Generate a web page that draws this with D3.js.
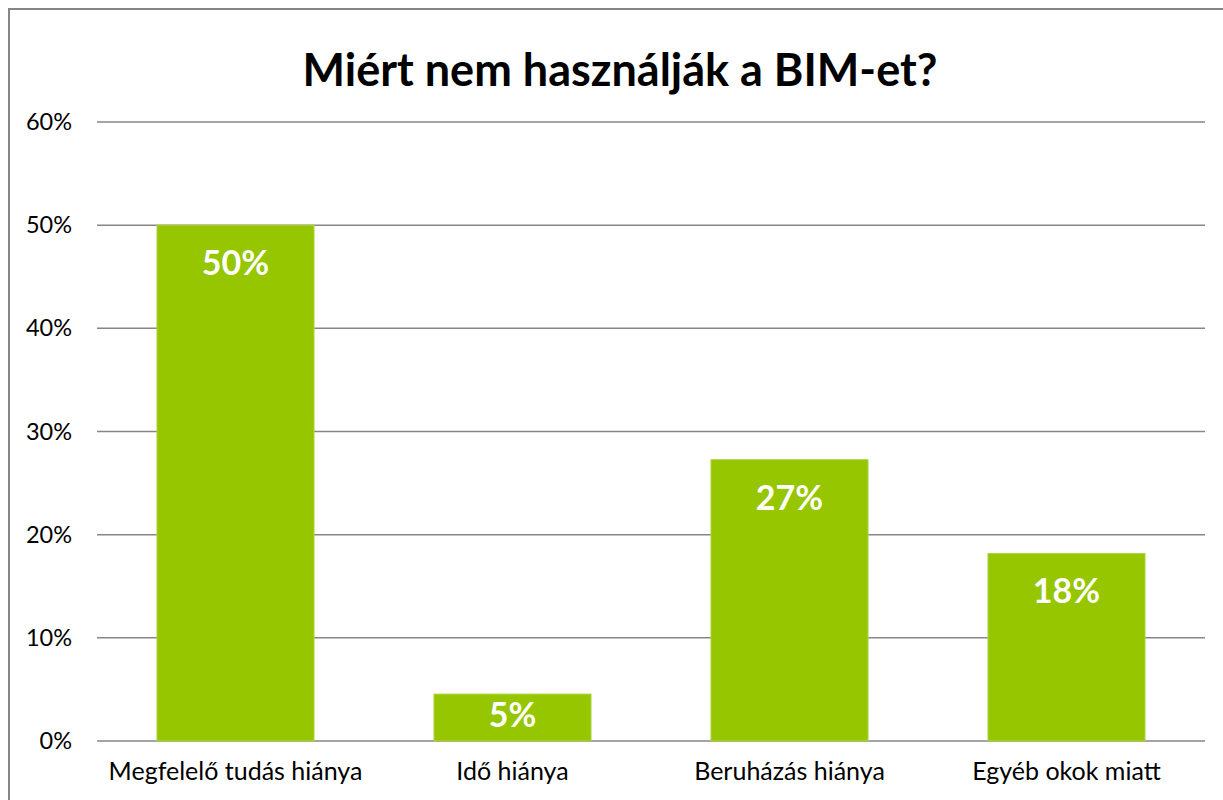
<!DOCTYPE html>
<html>
<head>
<meta charset="utf-8">
<script src="https://cdn.jsdelivr.net/npm/d3@7"></script>
<style>
  body { margin: 0; background: #fff; }
  svg { display: block; }
</style>
</head>
<body>
<div id="chart"></div>
<script>
var categories = ["Megfelelő tudás hiánya", "Idő hiánya", "Beruházás hiánya", "Egyéb okok miatt"];
var values = [50, 4.55, 27.27, 18.18];
var valueLabels = ["50%", "5%", "27%", "18%"];
var yTicks = [0, 10, 20, 30, 40, 50, 60];

var width = 1223, height = 800;
var margin = { top: 122, right: 18, bottom: 59, left: 97 };

var svg = d3.select("#chart")
    .append("svg")
    .attr("width", width)
    .attr("height", height);

// keret
svg.append("rect")
    .attr("x", 9).attr("y", 9)
    .attr("width", 1240).attr("height", 820)
    .attr("fill", "#fff")
    .attr("stroke", "#868686")
    .attr("stroke-width", 2);

svg.append("text")
    .attr("x", 620).attr("y", 86)
    .attr("text-anchor", "middle")
    .attr("font-family", "Lato, sans-serif")
    .attr("font-weight", "bold")
    .attr("font-size", 45)
    .attr("fill", "#000")
    .text("Miért nem használják a BIM-et?");

var x = d3.scaleBand()
    .domain(categories)
    .range([margin.left, width - margin.right])
    .paddingInner(0.433)
    .paddingOuter(0.2165);

var y = d3.scaleLinear()
    .domain([0, 60])
    .range([height - margin.bottom, margin.top]);

// racsvonalak
svg.append("g")
    .selectAll("line")
    .data(yTicks)
    .join("line")
    .attr("x1", margin.left)
    .attr("x2", width - margin.right)
    .attr("y1", d => y(d))
    .attr("y2", d => y(d))
    .attr("stroke", "#868686")
    .attr("stroke-width", 1.5);

var yAxis = svg.append("g")
    .attr("transform", "translate(" + (margin.left - 25) + ",0)")
    .call(d3.axisLeft(y).tickValues(yTicks).tickFormat(d => d + "%").tickSize(0).tickPadding(0));
yAxis.select(".domain").remove();
yAxis.selectAll("text")
    .attr("font-family", "Lato, sans-serif")
    .attr("font-size", 23.5)
    .attr("fill", "#000");

svg.append("g")
    .selectAll("rect")
    .data(values)
    .join("rect")
    .attr("x", (d, i) => x(categories[i]))
    .attr("y", d => y(d))
    .attr("width", x.bandwidth())
    .attr("height", d => y(0) - y(d))
    .attr("fill", "#95c600")
    .attr("stroke", "#b0d440")
    .attr("stroke-width", 1);

// alacsony oszlopnal a cimke lejjebb csuszik, hogy beferjen
svg.append("g")
    .selectAll("text")
    .data(values)
    .join("text")
    .attr("x", (d, i) => x(categories[i]) + x.bandwidth() / 2)
    .attr("y", d => Math.min(y(d) + 50, y(0) - 14))
    .attr("text-anchor", "middle")
    .attr("font-family", "Lato, sans-serif")
    .attr("font-weight", "bold")
    .attr("font-size", 34)
    .attr("fill", "#fff")
    .text((d, i) => valueLabels[i]);

var xAxis = svg.append("g")
    .attr("transform", "translate(0," + y(0) + ")")
    .call(d3.axisBottom(x).tickSize(0).tickPadding(21));
xAxis.select(".domain").remove();
xAxis.selectAll("text")
    .attr("font-family", "Lato, sans-serif")
    .attr("font-size", 25)
    .attr("fill", "#000");
</script>
</body>
</html>
